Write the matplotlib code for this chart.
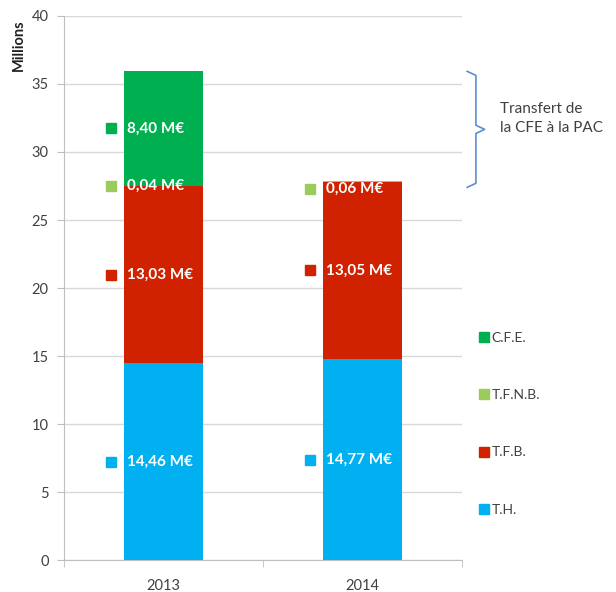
import matplotlib.pyplot as plt
import numpy as np
from matplotlib.lines import Line2D
from matplotlib.transforms import blended_transform_factory

plt.rcParams['font.family'] = ['Lato', 'DejaVu Sans']

years = ['2013', '2014']
th = [14.46, 14.77]
tfb = [13.03, 13.05]
tfnb = [0.04, 0.06]
cfe = [8.40, 0.0]

series = [('T.H.', th, '#00B0F0'),
          ('T.F.B.', tfb, '#D02200'),
          ('T.F.N.B.', tfnb, '#9BCB5A'),
          ('C.F.E.', cfe, '#00B050')]

fig = plt.figure(figsize=(6.16, 5.92), dpi=100)
ax = fig.add_axes([0.104, 0.054, 0.646, 0.919])

x = np.arange(len(years))
width = 0.4
bottom = np.zeros(len(years))
totals = np.sum([s[1] for s in series], axis=0)

for name, vals, col in series:
	vals = np.array(vals)
	ax.bar(x, vals, width, bottom=bottom, color=col, zorder=2)
	for i in range(len(years)):
		if vals[i] <= 0:
			continue
		mid = bottom[i] + vals[i] / 2
		mid = min(mid, totals[i] - 0.6)
		ax.plot(x[i] - 0.265, mid, marker='s', color=col, markersize=7, clip_on=False, zorder=3)
		lab = ('%.2f M€' % vals[i]).replace('.', ',')
		ax.text(x[i] - 0.185, mid, lab, color='white', fontsize=11, fontweight='bold',
			ha='left', va='center', zorder=4)
	bottom = bottom + vals

ax.set_xlim(-0.5, 1.5)
ax.set_ylim(0, 40)
ax.set_yticks(range(0, 41, 5))
ax.set_xticks(x)
ax.set_xticklabels(years)
ax.set_xticks([-0.5, 0.5, 1.5], minor=True)
ax.tick_params(axis='x', which='major', length=0, pad=14, labelsize=10.5, labelcolor='#404040')
ax.tick_params(axis='x', which='minor', length=5, color='#BFBFBF')
ax.tick_params(axis='y', length=5, color='#BFBFBF', labelsize=10.5, labelcolor='#404040', pad=6)
ax.yaxis.grid(True, color='#D9D9D9', linewidth=1, zorder=0)
ax.set_axisbelow(True)
for s in ['top', 'right']:
	ax.spines[s].set_visible(False)
ax.spines['left'].set_color('#BFBFBF')
ax.spines['bottom'].set_color('#BFBFBF')

fig.text(0.03, 0.967, 'Millions', rotation=90, ha='center', va='top', fontsize=10.5,
	fontweight='bold', color='#202020')

# brace for the CFE transfer
tr = blended_transform_factory(ax.transAxes, ax.transData)
top = totals[0]
bot = 27.4
midb = (top + bot) / 2
xb0, xb1, xb2 = 1.013, 1.035, 1.057
ax.plot([xb0, xb1, xb1, xb2, xb1, xb1, xb0],
	[top, top - 0.3, midb + 0.3, midb, midb - 0.3, bot + 0.3, bot],
	color='#5B8FD0', linewidth=1.2, transform=tr, clip_on=False)
ax.text(1.095, midb + 0.8, 'Transfert de\nla CFE à la PAC', transform=tr, ha='left', va='center',
	fontsize=11, color='#404040', linespacing=1.5)

handles = [Line2D([], [], marker='s', color=col, linestyle='none', markersize=7)
	for name, vals, col in series[::-1]]
labels = [name for name, vals, col in series[::-1]]
fig.legend(handles, labels, loc='upper left', bbox_to_anchor=(0.755, 0.46), frameon=False,
	fontsize=10, labelspacing=3.25, handletextpad=0.1, handlelength=0.9, labelcolor='#404040')

fig.savefig('out.png', dpi=100)
